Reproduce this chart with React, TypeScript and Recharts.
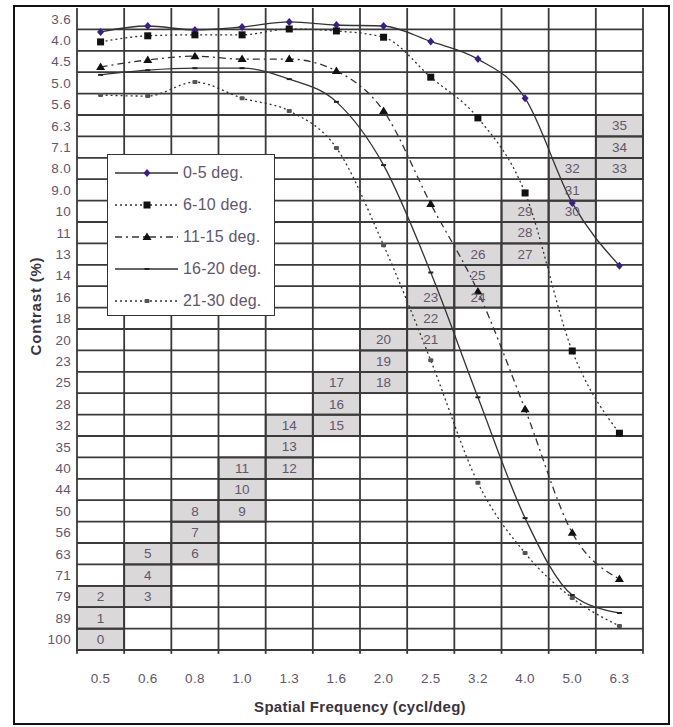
import React from 'react';
import { LineChart, Line, XAxis, YAxis, ReferenceArea, ReferenceLine, Legend } from 'recharts';

// spatial frequency columns (cycl/deg)
const xLabels = ['0.5', '0.6', '0.8', '1.0', '1.3', '1.6', '2.0', '2.5', '3.2', '4.0', '5.0', '6.3'];

// contrast rows (%), each row is 0.05 log units
const yLabels = [
  '3.6', '4.0', '4.5', '5.0', '5.6', '6.3', '7.1', '8.0', '9.0', '10', '11', '13', '14', '16', '18',
  '20', '23', '25', '28', '32', '35', '40', '44', '50', '56', '63', '71', '79', '89', '100',
];

// contrast threshold (%) per eccentricity group
const deg0to5 = [3.81, 3.69, 3.77, 3.71, 3.61, 3.67, 3.69, 4.01, 4.41, 5.44, 9.56, 13.4];
const deg6to10 = [4.02, 3.89, 3.87, 3.87, 3.75, 3.79, 3.92, 4.86, 6.05, 9.06, 21.2, 33.0];
const deg11to15 = [4.6, 4.43, 4.34, 4.41, 4.41, 4.7, 5.83, 9.61, 15.4, 29.0, 56.4, 72.3];
const deg16to20 = [4.8, 4.68, 4.63, 4.63, 4.91, 5.55, 7.8, 13.9, 27.2, 52.1, 78.8, 86.8];
const deg21to30 = [5.35, 5.38, 4.99, 5.44, 5.83, 7.11, 12.0, 22.3, 43.1, 62.9, 80.1, 93.1];

// shaded test cells: [column, row, number]
const cells: [string, string, number][] = [
  ['0.5', '100', 0], ['0.5', '89', 1], ['0.5', '79', 2],
  ['0.6', '79', 3], ['0.6', '71', 4], ['0.6', '63', 5],
  ['0.8', '63', 6], ['0.8', '56', 7], ['0.8', '50', 8],
  ['1.0', '50', 9], ['1.0', '44', 10], ['1.0', '40', 11],
  ['1.3', '40', 12], ['1.3', '35', 13], ['1.3', '32', 14],
  ['1.6', '32', 15], ['1.6', '28', 16], ['1.6', '25', 17],
  ['2.0', '25', 18], ['2.0', '23', 19], ['2.0', '20', 20],
  ['2.5', '20', 21], ['2.5', '18', 22], ['2.5', '16', 23],
  ['3.2', '16', 24], ['3.2', '14', 25], ['3.2', '13', 26],
  ['4.0', '13', 27], ['4.0', '11', 28], ['4.0', '10', 29],
  ['5.0', '10', 30], ['5.0', '9.0', 31], ['5.0', '8.0', 32],
  ['6.3', '8.0', 33], ['6.3', '7.1', 34], ['6.3', '6.3', 35],
];

const series = [
  { key: 'a', name: '0-5 deg.', values: deg0to5, dash: undefined, marker: 'diamond' },
  { key: 'b', name: '6-10 deg.', values: deg6to10, dash: '2 3', marker: 'square' },
  { key: 'c', name: '11-15 deg.', values: deg11to15, dash: '7 4 2 4', marker: 'triangle' },
  { key: 'd', name: '16-20 deg.', values: deg16to20, dash: undefined, marker: 'dash' },
  { key: 'e', name: '21-30 deg.', values: deg21to30, dash: '2 3', marker: 'small' },
];

const rowLog = (i: number) => 0.55 + 0.05 * i;
const yTicks = yLabels.map((_, i) => rowLog(i));
const xTicks = xLabels.map((_, i) => i);
const yMin = rowLog(0) - 0.025;
const yMax = rowLog(yLabels.length - 1) + 0.025;
const hBounds = yLabels.map((_, i) => rowLog(i) + 0.025);
const vBounds = [-0.5, ...xLabels.map((_, i) => i + 0.5)];

const data = xLabels.map((_, i) => {
  const row: any = { x: i };
  series.forEach((s) => { row[s.key] = Math.log10(s.values[i]); });
  return row;
});

const textColor = '#62566e';
const gridColor = '#3a3a3a';
const lineColor = '#333';

function Marker({ kind, cx, cy }: { kind: string; cx: number; cy: number }) {
  if (kind === 'diamond') {
    return <polygon points={`${cx},${cy - 4} ${cx + 3.5},${cy} ${cx},${cy + 4} ${cx - 3.5},${cy}`} fill="#3b1d86" />;
  }
  if (kind === 'square') return <rect x={cx - 3.5} y={cy - 3.5} width={7} height={7} fill="#111" />;
  if (kind === 'triangle') {
    return <polygon points={`${cx},${cy - 4.5} ${cx + 4.5},${cy + 3} ${cx - 4.5},${cy + 3}`} fill="#111" />;
  }
  if (kind === 'dash') return <rect x={cx - 2.5} y={cy - 1} width={5} height={2} fill="#222" />;
  return <rect x={cx - 2.5} y={cy - 2} width={5} height={4} rx={1} fill="#555" />;
}

const dotFor = (kind: string) => (props: any) => {
  const { cx, cy, index } = props;
  if (cx == null || cy == null) return <g key={index} />;
  return <Marker key={index} kind={kind} cx={cx} cy={cy} />;
};

function YTick({ x, y, payload }: any) {
  const i = yTicks.findIndex((t) => Math.abs(t - payload.value) < 1e-6);
  return (
    <text x={x} y={y} dy="0.36em" textAnchor="end" fill={textColor} fontSize={13.5} letterSpacing={0.3}>
      {yLabels[i]}
    </text>
  );
}

function XTick({ x, y, payload }: any) {
  return (
    <text x={x} y={y + 28} dy="0.36em" textAnchor="middle" fill={textColor} fontSize={13.5} letterSpacing={0.3}>
      {xLabels[payload.value]}
    </text>
  );
}

function LegendBox() {
  return (
    <div style={{ width: 168, height: 162, boxSizing: 'border-box', border: '1.5px solid #333', background: '#fff', paddingTop: 2 }}>
      {series.map((s) => (
        <div key={s.key} style={{ display: 'flex', alignItems: 'center', height: 32 }}>
          <svg width={75} height={12} style={{ flex: 'none' }}>
            <line x1={7} x2={70} y1={6} y2={6} stroke={lineColor} strokeWidth={1.3} strokeDasharray={s.dash} />
            <Marker kind={s.marker} cx={39} cy={6} />
          </svg>
          <span style={{ fontFamily: 'Arial, "Liberation Sans", sans-serif', fontSize: 16, color: textColor, letterSpacing: 0.2 }}>
            {s.name}
          </span>
        </div>
      ))}
    </div>
  );
}

export default function App() {
  return (
    <div style={{ position: 'absolute', left: 0, top: 0, width: 673, height: 727, background: '#fff', fontFamily: 'Arial, "Liberation Sans", sans-serif' }}>
      <div style={{ position: 'absolute', left: 13, top: 5, width: 657, height: 720, border: '2px solid #111', boxSizing: 'border-box' }} />
      <div style={{ position: 'absolute', left: 0, top: 0 }}>
        <LineChart width={673} height={727} data={data} margin={{ top: 8, right: 30, bottom: 0, left: 0 }}>
          <XAxis
            type="number"
            dataKey="x"
            domain={[-0.5, 11.5]}
            ticks={xTicks}
            interval={0}
            height={77}
            axisLine={false}
            tickLine={false}
            tickSize={0}
            tickMargin={0}
            tick={<XTick />}
            label={{
              content: ({ viewBox }: any) => (
                <text x={viewBox.x + viewBox.width / 2} y={viewBox.y + 57} dy="0.36em" textAnchor="middle" fontSize={15} fontWeight="bold" fill="#3a3340" letterSpacing={0.3}>
                  Spatial Frequency (cycl/deg)
                </text>
              ),
            }}
          />
          <YAxis
            type="number"
            domain={[yMin, yMax]}
            reversed
            ticks={yTicks}
            interval={0}
            width={77}
            axisLine={false}
            tickLine={false}
            tickSize={0}
            tickMargin={6}
            tick={<YTick />}
            allowDataOverflow
            label={{
              content: ({ viewBox }: any) => {
                const cx = viewBox.x + 36;
                const cy = viewBox.y + 298;
                return (
                  <text x={cx} y={cy} dy="0.36em" textAnchor="middle" fontSize={15} fontWeight="bold" fill="#3a3340" letterSpacing={0.8} transform={`rotate(-90 ${cx} ${cy})`}>
                    Contrast (%)
                  </text>
                );
              },
            }}
          />
          {cells.map(([col, row, n]) => {
            const c = xLabels.indexOf(col);
            const r = yLabels.indexOf(row);
            return (
              <ReferenceArea
                key={`cell-${n}`}
                x1={c - 0.5}
                x2={c + 0.5}
                y1={rowLog(r) - 0.025}
                y2={rowLog(r) + 0.025}
                fill="#dad8d8"
                fillOpacity={1}
                stroke={gridColor}
                strokeWidth={1.8}
                zIndex={50}
                label={{ value: String(n), position: 'center', fill: textColor, fontSize: 13.5 }}
              />
            );
          })}
          {hBounds.map((v, i) => (
            <ReferenceLine key={`h-${i}`} y={v} stroke={gridColor} strokeWidth={1.8} zIndex={150} />
          ))}
          {vBounds.map((v, i) => (
            <ReferenceLine key={`v-${i}`} x={v} stroke={gridColor} strokeWidth={1.8} zIndex={150} />
          ))}
          {vBounds.map((v, i) => (
            <ReferenceLine
              key={`t-${i}`}
              segment={[{ x: v, y: yMax }, { x: v, y: yMax + 0.009 }]}
              stroke={gridColor}
              strokeWidth={1.8}
              ifOverflow="visible"
              zIndex={150}
            />
          ))}
          {series.map((s) => (
            <Line
              key={s.key}
              type="monotone"
              dataKey={s.key}
              name={s.name}
              stroke={lineColor}
              strokeWidth={1.3}
              strokeDasharray={s.dash}
              dot={dotFor(s.marker)}
              activeDot={false}
              isAnimationActive={false}
            />
          ))}
          <Legend
            layout="vertical"
            align="center"
            verticalAlign="middle"
            content={() => <LegendBox />}
            wrapperStyle={{ position: 'absolute', left: 107, top: 154, width: 168, height: 162 }}
          />
        </LineChart>
      </div>
    </div>
  );
}
